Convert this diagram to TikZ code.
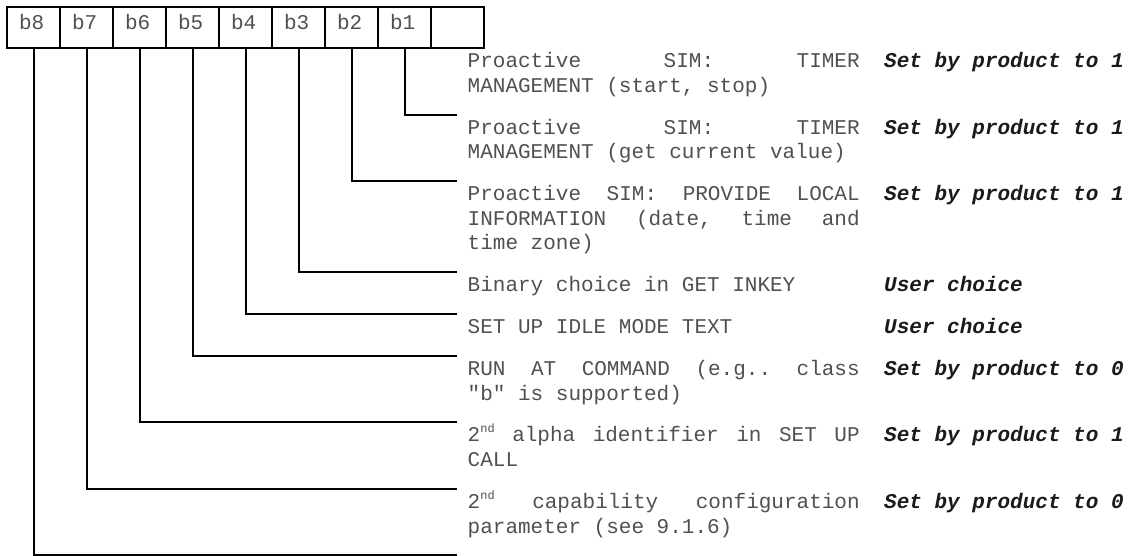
\documentclass[tikz,border=0pt]{standalone}
\usepackage{fontspec}
\setmonofont{Liberation Mono}
\definecolor{txtgray}{HTML}{505050}
\definecolor{boldtxt}{HTML}{1A1A1A}
\newcommand{\jl}[1]{\hbox to \linewidth{#1}}
\newcommand{\nl}[1]{\hbox{#1}}
\newcommand{\sups}[1]{\raisebox{0.45em}{\fontsize{12}{12}\selectfont #1}}
\newcommand{\para}[1]{\parbox[t]{392pt}{\baselineskip=24.5pt #1}}
\tikzset{
  cell/.style={draw, line width=2pt, anchor=north west, inner xsep=12pt, inner ysep=0pt,
    text width=29pt, text height=22.5pt, text depth=18.5pt, align=left,
    font=\ttfamily\fontsize{21}{24.5}\selectfont, text=txtgray},
  conn/.style={line width=2pt, black},
  desc/.style={anchor=base west, inner sep=0pt, font=\ttfamily\fontsize{21}{24.5}\selectfont, text=txtgray},
  setting/.style={anchor=base west, inner sep=0pt, font=\ttfamily\bfseries\itshape\fontsize{21}{24.5}\selectfont, text=boldtxt}
}
\begin{document}
\begin{tikzpicture}[x=1pt,y=-1pt]
\useasboundingbox (0,0) rectangle (1134,556);
% byte cells
\node[cell] (c8) at (6,6) {b8};
\node[cell] (c7) at (59,6) {b7};
\node[cell] (c6) at (112,6) {b6};
\node[cell] (c5) at (165,6) {b5};
\node[cell] (c4) at (218,6) {b4};
\node[cell] (c3) at (271,6) {b3};
\node[cell] (c2) at (324,6) {b2};
\node[cell] (c1) at (377,6) {b1};
\node[cell] (c0) at (430,6) {};
% connector ends
\coordinate (e1) at (457,115);
\coordinate (e2) at (457,181);
\coordinate (e3) at (457,272);
\coordinate (e4) at (457,314);
\coordinate (e5) at (457,356);
\coordinate (e6) at (457,422);
\coordinate (e7) at (457,489);
\coordinate (e8) at (457,555);
\draw[conn] (c1.south) |- (e1);
\draw[conn] (c2.south) |- (e2);
\draw[conn] (c3.south) |- (e3);
\draw[conn] (c4.south) |- (e4);
\draw[conn] (c5.south) |- (e5);
\draw[conn] (c6.south) |- (e6);
\draw[conn] (c7.south) |- (e7);
\draw[conn] (c8.south) |- (e8);
% descriptions
\node[desc] (d1) at (467.5,68) {\para{\jl{Proactive\hfill SIM:\hfill TIMER}\nl{MANAGEMENT (start, stop)}}};
\node[desc] (d2) at (467.5,134.5) {\para{\jl{Proactive\hfill SIM:\hfill TIMER}\nl{MANAGEMENT (get current value)}}};
\node[desc] (d3) at (467.5,200.5) {\para{\jl{Proactive\hfill SIM:\hfill PROVIDE\hfill LOCAL}\jl{INFORMATION\hfill (date,\hfill time\hfill and}\nl{time zone)}}};
\node[desc] (d4) at (467.5,291.5) {\para{\nl{Binary choice in GET INKEY}}};
\node[desc] (d5) at (467.5,333.5) {\para{\nl{SET UP IDLE MODE TEXT}}};
\node[desc] (d6) at (467.5,375.5) {\para{\jl{RUN\hfill AT\hfill COMMAND\hfill (e.g..\hfill class}\nl{\char34 b\char34{} is supported)}}};
\node[desc] (d7) at (467.5,441.5) {\para{\jl{2\sups{nd}\hfill alpha\hfill identifier\hfill in\hfill SET\hfill UP}\nl{CALL}}};
\node[desc] (d8) at (467.5,508.5) {\para{\jl{2\sups{nd}\hfill capability\hfill configuration}\nl{parameter (see 9.1.6)}}};
% settings
\node[setting] (s1) at (884,68) {Set by product to 1};
\node[setting] (s2) at (884,134.5) {Set by product to 1};
\node[setting] (s3) at (884,200.5) {Set by product to 1};
\node[setting] (s4) at (884,291.5) {User choice};
\node[setting] (s5) at (884,333.5) {User choice};
\node[setting] (s6) at (884,375.5) {Set by product to 0};
\node[setting] (s7) at (884,441.5) {Set by product to 1};
\node[setting] (s8) at (884,508.5) {Set by product to 0};
\end{tikzpicture}
\end{document}
